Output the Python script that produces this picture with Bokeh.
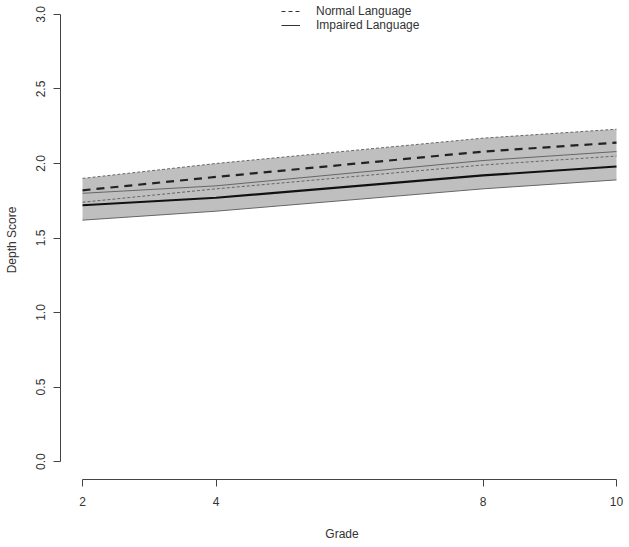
from bokeh.plotting import figure
from bokeh.models import Range1d, FixedTicker, Legend, LegendItem
from bokeh.embed import file_html
from bokeh.resources import INLINE

# ---- data ----
grades = [2, 4, 8, 10]
normal_upper = [1.90, 2.00, 2.17, 2.23]
normal_mean = [1.82, 1.91, 2.08, 2.14]
normal_lower = [1.74, 1.83, 1.99, 2.05]
impaired_upper = [1.80, 1.85, 2.02, 2.08]
impaired_mean = [1.72, 1.77, 1.92, 1.98]
impaired_lower = [1.62, 1.68, 1.83, 1.89]

x_ticks = [2, 4, 8, 10]
y_ticks = [0.0, 0.5, 1.0, 1.5, 2.0, 2.5, 3.0]
y_tick_labels = ["0.0", "0.5", "1.0", "1.5", "2.0", "2.5", "3.0"]
series_names = ["Normal Language", "Impaired Language"]

FONT = "Liberation Sans"
AX = "#444444"
TXT = "#333333"
BAND = "#bfbfbf"
BOUND = "#666666"

p = figure(width=627, height=543, output_backend="svg", toolbar_location=None,
           x_range=Range1d(1.670, 10.105), y_range=Range1d(-0.1205, 3.0938),
           min_border_left=60, min_border_right=4, min_border_top=0,
           min_border_bottom=63)
p.outline_line_color = None
p.xgrid.visible = False
p.ygrid.visible = False
p.background_fill_color = "white"
p.border_fill_color = "white"

# bands
p.varea(x=grades, y1=normal_lower, y2=normal_upper, fill_color=BAND)
p.varea(x=grades, y1=impaired_lower, y2=impaired_upper, fill_color=BAND)

# bounds
p.line(grades, normal_upper, line_color=BOUND, line_width=1, line_dash="3 2")
p.line(grades, normal_lower, line_color=BOUND, line_width=1, line_dash="3 2")
p.line(grades, impaired_upper, line_color=BOUND, line_width=1)
p.line(grades, impaired_lower, line_color=BOUND, line_width=1)

# means
p.line(grades, normal_mean, line_color="#222222", line_width=2.2, line_dash="8 6")
p.line(grades, impaired_mean, line_color="#111111", line_width=2.2)

# legend-only glyphs
ln = p.line(grades, normal_mean, line_color="#333333", line_width=1, line_dash="4 3", visible=False)
li = p.line(grades, impaired_mean, line_color="#333333", line_width=1, visible=False)

legend = Legend(items=[LegendItem(label=series_names[0], renderers=[ln]),
                       LegendItem(label=series_names[1], renderers=[li])],
                location=(221, 447), orientation="vertical",
                border_line_color=None, background_fill_alpha=0,
                padding=0, spacing=0, margin=0,
                glyph_width=19, glyph_height=14, label_height=14,
                label_standoff=16, label_text_font=FONT,
                label_text_font_size="12px", label_text_color=TXT)
p.add_layout(legend, "center")

# axes
xa = p.xaxis[0]
xa.ticker = FixedTicker(ticks=x_ticks)
xa.bounds = (x_ticks[0], x_ticks[-1])
xa.axis_label = "Grade"
ya = p.yaxis[0]
ya.ticker = FixedTicker(ticks=y_ticks)
ya.major_label_overrides = {t: s for t, s in zip(y_ticks, y_tick_labels)}
ya.bounds = (y_ticks[0], y_ticks[-1])
ya.axis_label = "Depth Score"
ya.major_label_orientation = "vertical"

for ax in (xa, ya):
    ax.axis_line_color = AX
    ax.axis_line_width = 1
    ax.major_tick_line_color = AX
    ax.major_tick_out = 7
    ax.major_tick_in = 0
    ax.minor_tick_line_color = None
    ax.major_label_text_font = FONT
    ax.major_label_text_font_size = "12px"
    ax.major_label_text_color = TXT
    ax.axis_label_text_font = FONT
    ax.axis_label_text_font_size = "12px"
    ax.axis_label_text_font_style = "normal"
    ax.axis_label_text_color = TXT

xa.major_label_standoff = 10
xa.axis_label_standoff = 18
ya.major_label_standoff = 8
ya.axis_label_standoff = 15

open("out.html", "w").write(file_html(p, INLINE))
